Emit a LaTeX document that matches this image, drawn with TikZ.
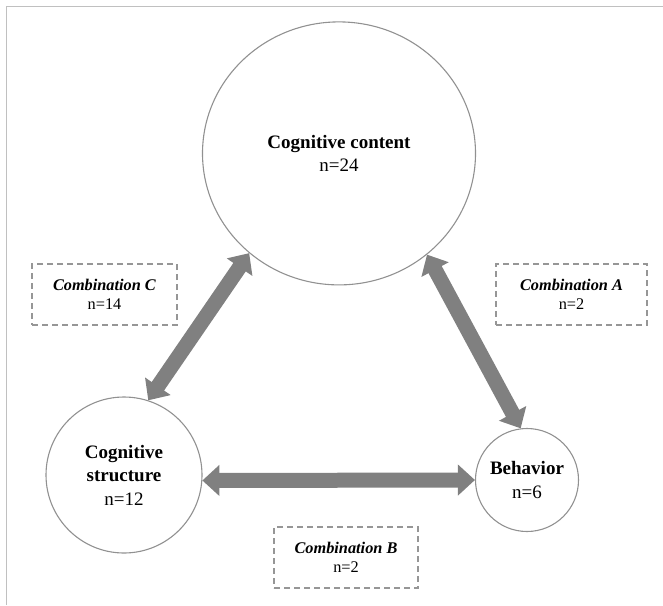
\documentclass[tikz,border=0pt]{standalone}
\usepackage{fontspec}
\setmainfont{Liberation Serif}
\usetikzlibrary{arrows.meta,shapes.geometric}
\definecolor{arrowgray}{RGB}{128,128,128}
\definecolor{circgray}{RGB}{145,145,145}
\definecolor{boxgray}{RGB}{150,150,150}
\definecolor{framegray}{RGB}{192,192,192}
\begin{document}
\begin{tikzpicture}[x=1pt,y=-1pt,
  circ/.style={circle, draw=circgray, line width=1.1pt, inner sep=0pt, align=center, font=\fontsize{19}{23.5}\selectfont},
  combo/.style={draw=boxgray, dash pattern=on 6pt off 4pt, line width=1.1pt, minimum height=61pt, inner sep=0pt, align=center, font=\fontsize{16.3}{19}\selectfont},
  fat/.style={draw=arrowgray, line width=15pt, {Triangle[width=30pt,length=17pt]}-{Triangle[width=30pt,length=17pt]}}]
\useasboundingbox (0,0) rectangle (663,605);
\draw[framegray, line width=1.5pt] (6.5,605) -- (6.5,6.5) -- (663,6.5);
\node[circ, ellipse, minimum width=273pt, minimum height=263pt] (content) at (339,153.4) {\textbf{Cognitive content}\\n=24};
\node[circ, minimum size=156pt] (structure) at (124,475) {\textbf{Cognitive}\\\textbf{structure}\\n=12};
\node[circ, minimum size=103pt] (behavior) at (527,480) {\textbf{Behavior}\\n=6};
\node[combo, minimum width=145pt] (combC) at (104.5,294.5) {\textbf{\textit{Combination C}}\\n=14};
\node[combo, minimum width=151pt] (combA) at (571.5,294.5) {\textbf{\textit{Combination A}}\\n=2};
\node[combo, minimum width=144pt] (combB) at (346,557.5) {\textbf{\textit{Combination B}}\\n=2};
\draw[fat] (content.228) -- (structure.72);
\draw[fat] (content.311.5) -- (behavior.97);
\draw[fat] (structure.-4) -- (behavior.180);
\end{tikzpicture}
\end{document}
